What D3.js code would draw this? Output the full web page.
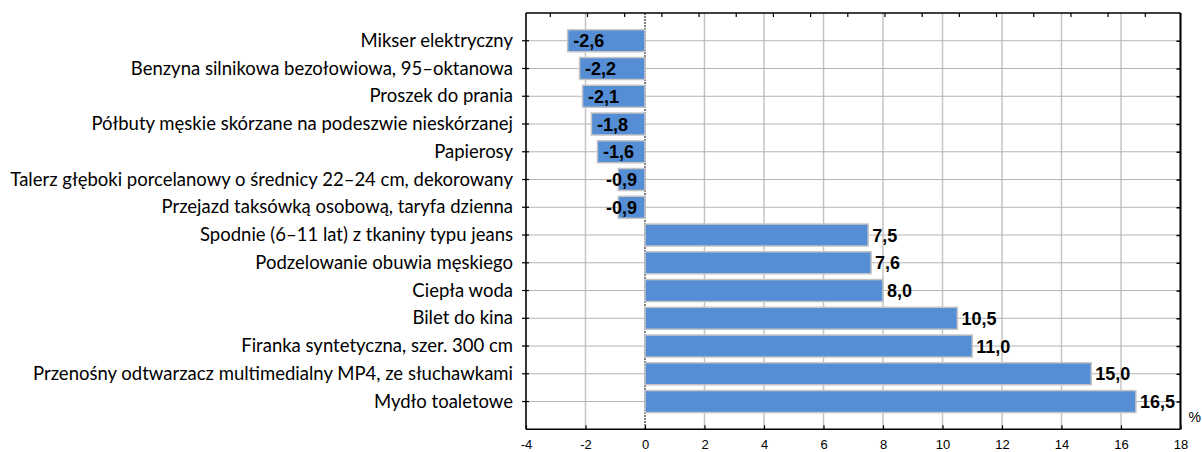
<!DOCTYPE html>
<html>
<head>
<meta charset="utf-8">
<script src="https://cdn.jsdelivr.net/npm/d3@7"></script>
<style>
  body { margin: 0; background: #fff; }
  .xax .tick text { font-family: "Liberation Sans", Arial, sans-serif; font-size: 13px; fill: #000; }
  .cat .tick text { font-family: Lato, "Open Sans", sans-serif; font-size: 18.5px; fill: #000; }
  .val { font-family: "Liberation Sans", Arial, sans-serif; font-size: 18px; font-weight: bold; fill: #000; }
</style>
</head>
<body>
<div id="chart"></div>
<script>
// categories, top to bottom
const categories = [
  "Mikser elektryczny",
  "Benzyna silnikowa bezołowiowa, 95–oktanowa",
  "Proszek do prania",
  "Półbuty męskie skórzane na podeszwie nieskórzanej",
  "Papierosy",
  "Talerz głęboki porcelanowy o średnicy 22–24 cm, dekorowany",
  "Przejazd taksówką osobową, taryfa dzienna",
  "Spodnie (6–11 lat) z tkaniny typu jeans",
  "Podzelowanie obuwia męskiego",
  "Ciepła woda",
  "Bilet do kina",
  "Firanka syntetyczna, szer. 300 cm",
  "Przenośny odtwarzacz multimedialny MP4, ze słuchawkami",
  "Mydło toaletowe"
];
const values = [-2.6, -2.2, -2.1, -1.8, -1.6, -0.9, -0.9, 7.5, 7.6, 8.0, 10.5, 11.0, 15.0, 16.5];
const xTicks = [-4, -2, 0, 2, 4, 6, 8, 10, 12, 14, 16, 18];
const topTicks = d3.range(0, 17);   // secondary axis ticks along the top
const unitLabel = "%";

/* margins and size */
const margin = {top: 13, right: 21.5, bottom: 22.7, left: 526};
const width = 1202 - margin.left - margin.right;
const height = 452 - margin.top - margin.bottom;

const pl = d3.formatLocale({decimal: ",", thousands: " ", grouping: [3], currency: ["", " zł"], minus: "-"});
const fmtVal = pl.format(".1f");
const fmtTick = pl.format("d");

const svg = d3.select("#chart")
  .append("svg")
  .attr("width", 1202)
  .attr("height", 452)
  .append("g")
    .attr("transform", `translate(${margin.left},${margin.top})`);

/* scales */
const xScale = d3.scaleLinear()
  .domain([xTicks[0], xTicks[xTicks.length - 1]])
  .range([0, width]);

const yScale = d3.scalePoint()
  .domain(categories)
  .range([0, height])
  .padding(1);

const xTop = d3.scaleLinear()
  .domain([-0.64, 16.96])
  .range([0, width]);

const barH = 22;

/* vertical gridlines */
svg.append("g")
  .selectAll("line")
  .data(xTicks.filter(d => d !== 0))
  .join("line")
    .attr("x1", d => xScale(d)).attr("x2", d => xScale(d))
    .attr("y1", 0).attr("y2", height)
    .attr("stroke", "#c4c4c4")
    .attr("stroke-width", 1.5);

/* horizontal gridlines at categories */
svg.append("g")
  .selectAll("line")
  .data(categories)
  .join("line")
    .attr("x1", 0).attr("x2", width)
    .attr("y1", d => yScale(d)).attr("y2", d => yScale(d))
    .attr("stroke", "#b4b4b4")
    .attr("stroke-width", 1);

/* zero line */
svg.append("line")
  .attr("x1", xScale(0)).attr("x2", xScale(0))
  .attr("y1", 0).attr("y2", height)
  .attr("stroke", "#000")
  .attr("stroke-width", 1)
  .attr("stroke-dasharray", "2,1");

/* bars */
svg.append("g")
  .selectAll("rect")
  .data(values)
  .join("rect")
    .attr("x", d => xScale(Math.min(0, d)))
    .attr("y", (d, i) => yScale(categories[i]) - barH / 2)
    .attr("width", d => Math.abs(xScale(d) - xScale(0)))
    .attr("height", barH)
    .attr("fill", "#558ED5")
    .attr("stroke", "#C4C4C4")
    .attr("stroke-width", 1.5);

/* value labels */
const labels = svg.append("g")
  .selectAll("text")
  .data(values)
  .join("text")
    .attr("class", "val")
    .attr("y", (d, i) => yScale(categories[i]) + 6.5)
    .text(d => fmtVal(d));

labels.attr("x", function(d) {
  if (d >= 0) return xScale(d) + 4;
  const w = this.getComputedTextLength();
  return Math.min(xScale(d) + 5.5, xScale(0) - 8 - w);
});

/* left axis (categories) */
const yAxis = d3.axisLeft(yScale).tickSize(0).tickPadding(13);
const yG = svg.append("g").attr("class", "cat").call(yAxis);
yG.select(".domain").remove();
yG.selectAll(".tick text").attr("dy", "0.3em");

svg.append("g")
  .selectAll("line")
  .data(categories)
  .join("line")
    .attr("x1", -4).attr("x2", 3)
    .attr("y1", d => yScale(d)).attr("y2", d => yScale(d))
    .attr("stroke", "#000").attr("stroke-width", 1.2);

svg.append("line")
  .attr("x1", 0).attr("x2", 0).attr("y1", 0).attr("y2", height)
  .attr("stroke", "#000").attr("stroke-width", 1.5);

/* right axis */
svg.append("g")
  .attr("transform", `translate(${width},0)`)
  .call(d3.axisLeft(yScale).tickSize(4).tickFormat(""))
  .call(g => g.select(".domain").remove())
  .call(g => g.selectAll(".tick line").attr("stroke-width", 1.5));

svg.append("line")
  .attr("x1", width).attr("x2", width).attr("y1", 0).attr("y2", height)
  .attr("stroke", "#000").attr("stroke-width", 2);

/* top axis */
svg.append("g")
  .call(d3.axisBottom(xTop).tickValues(topTicks).tickSize(4).tickFormat(""))
  .call(g => g.select(".domain").remove())
  .call(g => g.selectAll(".tick line").attr("stroke-width", 1.2));

svg.append("line")
  .attr("x1", 0).attr("x2", width).attr("y1", 0).attr("y2", 0)
  .attr("stroke", "#000").attr("stroke-width", 1.5);

/* bottom axis */
const xG = svg.append("g")
  .attr("transform", `translate(0,${height})`)
  .call(d3.axisTop(xScale).tickValues(xTicks).tickSize(4).tickFormat(""));
xG.select(".domain").remove();
xG.selectAll(".tick line").attr("stroke-width", 1.2);

svg.append("g")
  .attr("class", "xax")
  .attr("transform", `translate(0,${height})`)
  .call(d3.axisBottom(xScale).tickValues(xTicks).tickSize(0).tickPadding(10).tickFormat(fmtTick))
  .call(g => g.select(".domain").remove());

svg.append("line")
  .attr("x1", 0).attr("x2", width).attr("y1", height).attr("y2", height)
  .attr("stroke", "#000").attr("stroke-width", 1.5);

/* unit */
svg.append("text")
  .attr("x", width + 8)
  .attr("y", height - 7)
  .style("font-family", "'Liberation Sans', Arial, sans-serif")
  .style("font-size", "14px")
  .text(unitLabel);
</script>
</body>
</html>
